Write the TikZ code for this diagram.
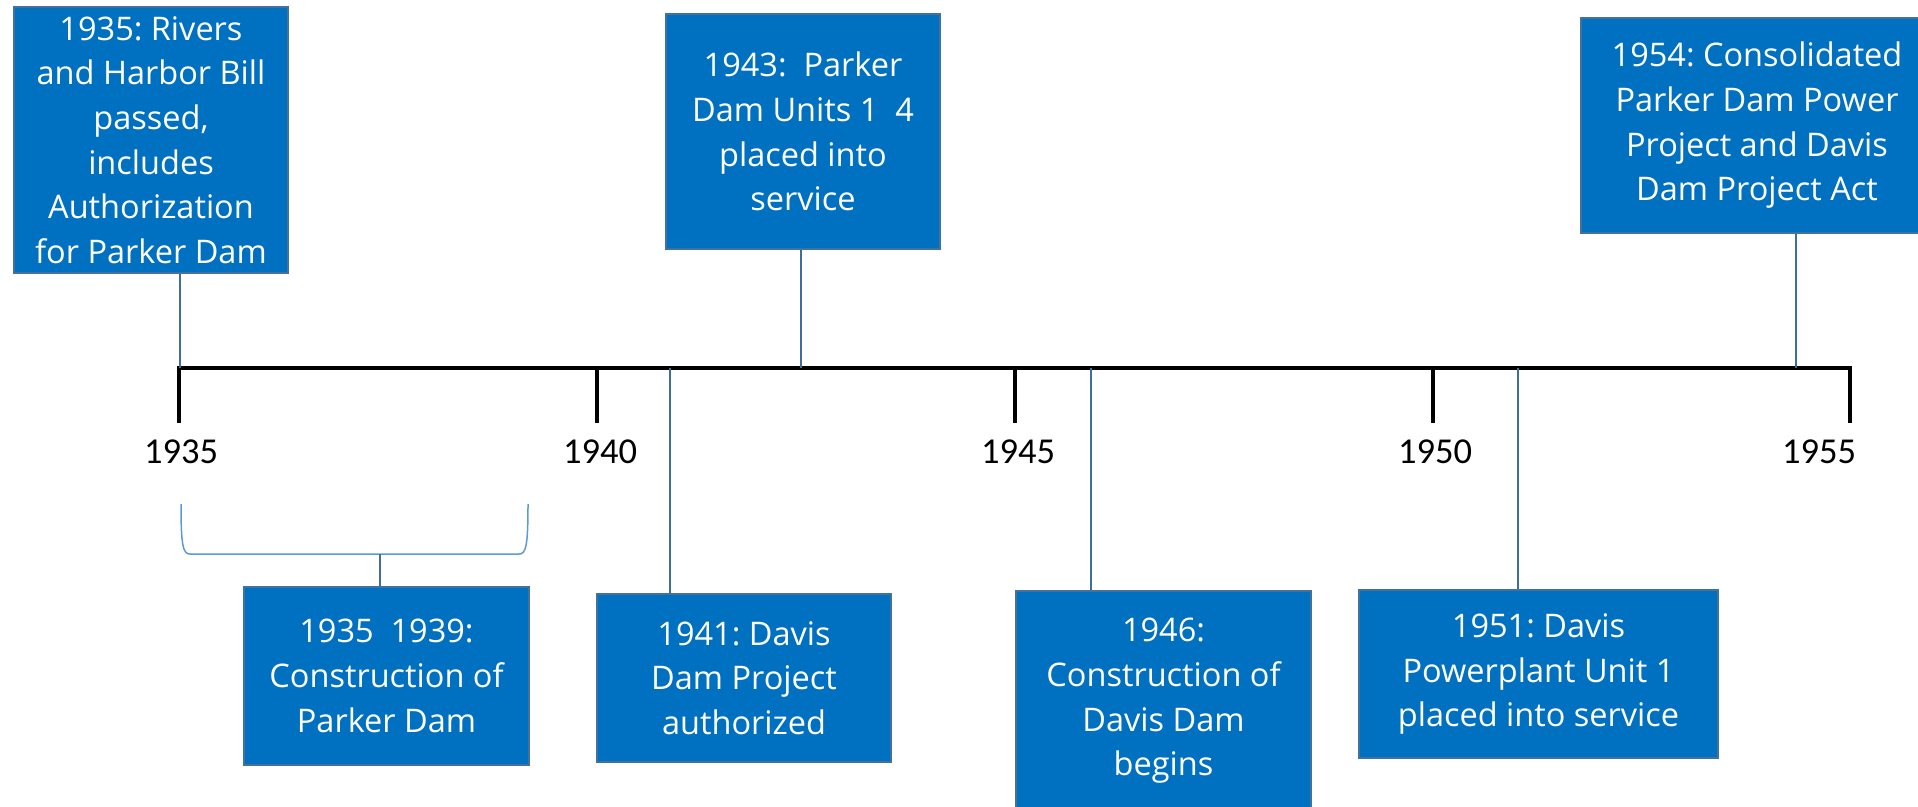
\documentclass[tikz,border=0pt]{standalone}
\usepackage{fontspec}
\setmainfont{Open Sans}
\newfontfamily\tickfont{Carlito}
\usetikzlibrary{calc}
\frenchspacing
\definecolor{boxblue}{HTML}{0070C0}
\definecolor{boxedge}{HTML}{41719C}
\definecolor{connblue}{HTML}{3F6E9A}
\definecolor{bracketblue}{HTML}{5B9BD5}
\begin{document}
\begin{tikzpicture}[x=1pt,y=-1pt,
  evbox/.style={draw=boxedge, line width=2pt, fill=boxblue, text=white, align=center, inner sep=0pt,
    font=\frenchspacing\fontsize{32.5}{44.7}\selectfont},
  conn/.style={draw=connblue, line width=2pt},
  axisline/.style={line width=4pt, line join=miter},
  tickline/.style={line width=3.5pt},
  ticklabel/.style={font=\tickfont\fontsize{36.5}{40}\selectfont, anchor=base, inner sep=0pt},
  bracketline/.style={draw=bracketblue, line width=1.5pt}]
\clip (0,0) rectangle (1918,806);
\useasboundingbox (0,0) rectangle (1918,806);

% event boxes
\node[evbox, minimum width=274pt, minimum height=266pt] (bA) at (151,140)
  {1935: Rivers\\and Harbor Bill\\passed,\\includes\\Authorization\\for Parker Dam};
\node[evbox, minimum width=274pt, minimum height=235pt] (bB) at (803,131.5)
  {1943:\ \ Parker\\Dam Units 1\ \ 4\\placed into\\service};
\node[evbox, minimum width=352pt, minimum height=215pt] (bC) at (1757,125.5)
  {1954: Consolidated\\Parker Dam Power\\Project and Davis\\Dam Project Act};
\node[evbox, minimum width=285pt, minimum height=178pt] (bD) at (386.5,676)
  {1935\ \ 1939:\\Construction of\\Parker Dam};
\node[evbox, minimum width=294pt, minimum height=168pt] (bE) at (744,678)
  {1941: Davis\\Dam Project\\authorized};
\node[evbox, minimum width=295pt, minimum height=220pt] (bF) at (1163.5,701)
  {1946:\\Construction of\\Davis Dam\\begins};
\node[evbox, minimum width=359pt, minimum height=168pt] (bG) at (1538.5,674)
  {1951: Davis\\Powerplant Unit 1\\placed into service};

% axis
\coordinate (t35) at (179,368);
\coordinate (t40) at (597,368);
\coordinate (t45) at (1015,368);
\coordinate (t50) at (1433,368);
\coordinate (t55) at (1850,368);
\draw[axisline] ($(t35)+(0,55)$) -- (t35) -- (t55) -- ($(t55)+(0,55)$);
\draw[tickline] (t40) -- ($(t40)+(0,55)$);
\draw[tickline] (t45) -- ($(t45)+(0,55)$);
\draw[tickline] (t50) -- ($(t50)+(0,55)$);

\node[ticklabel] (l35) at (181,463) {1935};
\node[ticklabel] (l40) at (600,463) {1940};
\node[ticklabel] (l45) at (1018,463) {1945};
\node[ticklabel] (l50) at (1435,463) {1950};
\node[ticklabel] (l55) at (1819,463) {1955};

% connection points on the axis
\coordinate (pA) at (180,368);
\coordinate (pB) at (801,368);
\coordinate (pC) at (1796,368);
\coordinate (pE) at (669.5,368);
\coordinate (pF) at (1090.5,368);
\coordinate (pG) at (1517.5,368);

\draw[conn] (bA.south -| pA) -- (pA);
\draw[conn] (bB.south -| pB) -- (pB);
\draw[conn] (bC.south -| pC) -- (pC);
\draw[conn] (pE) -- (bE.north -| pE);
\draw[conn] (pF) -- (bF.north -| pF);
\draw[conn] (pG) -- (bG.north -| pG);

% bracket for 1935-1939
\coordinate (brk) at (380,554);
\draw[bracketline] (181,504) .. controls (181,546) and (183,554) .. (190,554)
  -- (519,554) .. controls (526,554) and (528,546) .. (528,504);
\draw[conn] (brk) -- (bD.north -| brk);
\end{tikzpicture}
\end{document}
